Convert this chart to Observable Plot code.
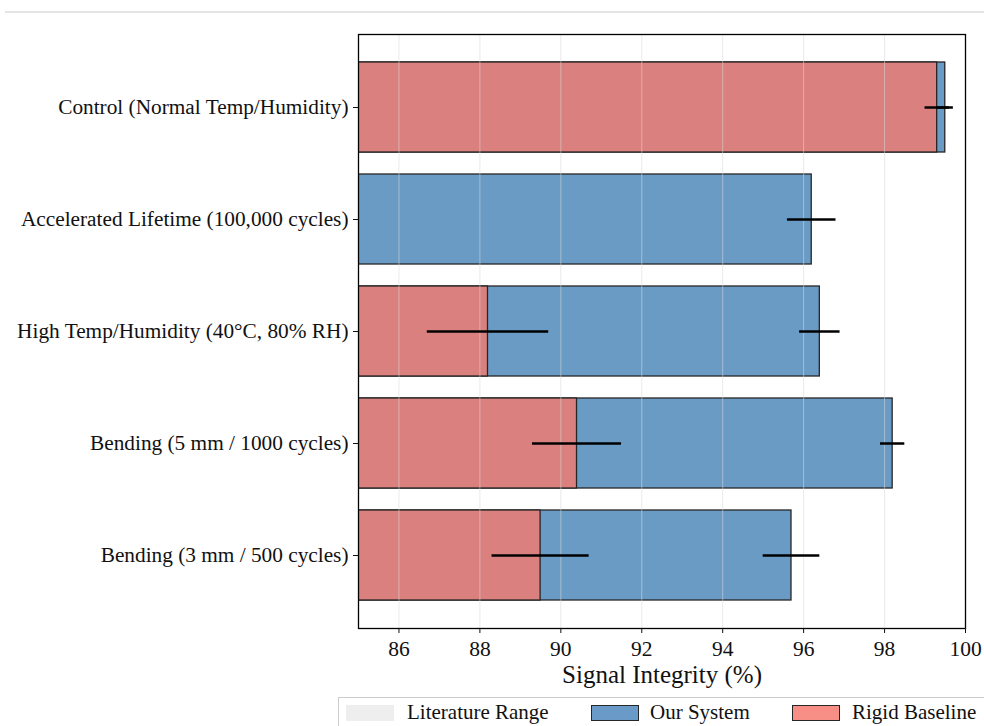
<!DOCTYPE html>
<html>
<head>
<meta charset="utf-8">
<script src="https://cdn.jsdelivr.net/npm/d3@7"></script>
<script src="https://cdn.jsdelivr.net/npm/@observablehq/plot@0.6"></script>
<style>
  html, body { margin: 0; padding: 0; background: #ffffff; }
  body { width: 984px; height: 726px; position: relative; overflow: hidden; font-family: "Liberation Serif", "DejaVu Serif", serif; }
  #topline { position: absolute; left: 5px; right: 0; top: 11px; height: 2px; background: #e4e4e4; }
  #chart { position: absolute; left: 0; top: 0; }
  #legend { position: absolute; left: 338px; top: 697px; width: 660px; height: 30px; border: 1px solid #cccccc; background: #fff; box-sizing: border-box; }
  .sw { position: absolute; top: 7px; width: 48px; height: 16px; box-sizing: border-box; }
  .lt { position: absolute; top: 2px; font-size: 21px; color: #111; white-space: nowrap; line-height: 24px; }
</style>
</head>
<body>
<div id="topline"></div>
<div id="chart"></div>
<div id="legend"></div>
<script>
const categories = [
  "Control (Normal Temp/Humidity)",
  "Accelerated Lifetime (100,000 cycles)",
  "High Temp/Humidity (40°C, 80% RH)",
  "Bending (5 mm / 1000 cycles)",
  "Bending (3 mm / 500 cycles)"
];
const oursValues = [99.5, 96.2, 96.4, 98.2, 95.7];
const oursErrors = [0.2, 0.6, 0.5, 0.3, 0.7];
const rigidValues = [99.3, null, 88.2, 90.4, 89.5];
const rigidErrors = [0.3, null, 1.5, 1.1, 1.2];
const xTicks = [86, 88, 90, 92, 94, 96, 98, 100];
const legendLabels = ["Literature Range", "Our System", "Rigid Baseline"];

const ours = categories.map((c, i) => ({cat: c, v: oursValues[i], e: oursErrors[i]}));
const rigid = categories.map((c, i) => ({cat: c, v: rigidValues[i], e: rigidErrors[i]})).filter(d => d.v != null);

const W = 984, H = 694;

const chart = Plot.plot({
  width: W,
  height: H,
  marginTop: 34,
  marginBottom: 66,
  marginLeft: 358,
  marginRight: 19,
  style: {fontFamily: "'Liberation Serif', serif", background: "transparent", color: "#111"},
  x: {domain: [85, 100], ticks: xTicks},
  y: {domain: categories, paddingInner: 0.2, paddingOuter: 0.246, align: 0.5},
  marks: [
    Plot.barX(ours, {x1: 85, x2: "v", y: "cat", fill: "#6a9bc5", stroke: "#262626", strokeWidth: 1.3, clip: true}),
    Plot.barX(rigid, {x1: 85, x2: "v", y: "cat", fill: "#da807e", stroke: "#262626", strokeWidth: 1.3, clip: true}),
    Plot.gridX(xTicks, {stroke: "#d8d8d8", strokeOpacity: 0.55, strokeWidth: 1}),
    Plot.ruleY(ours, {x1: d => d.v - d.e, x2: d => d.v + d.e, y: "cat", stroke: "#000", strokeWidth: 2.5}),
    Plot.ruleY(rigid, {x1: d => d.v - d.e, x2: d => d.v + d.e, y: "cat", stroke: "#000", strokeWidth: 2.5}),
    Plot.frame({stroke: "#000", strokeWidth: 1.3}),
    Plot.axisX({ticks: xTicks, tickSize: 5, tickPadding: 7, fontSize: 21.5, label: null, tickFormat: d => String(d)}),
    Plot.axisY({tickSize: 5, tickPadding: 5, fontSize: 21.3, label: null}),
    Plot.text(["Signal Integrity (%)"], {frameAnchor: "bottom", dy: 54, fontSize: 25, fill: "#111"})
  ]
});
document.getElementById("chart").appendChild(chart);

const legend = document.getElementById("legend");
const swatches = [
  {fill: "#eeeeee", stroke: "none", left: 7},
  {fill: "#6a9bc8", stroke: "1.3px solid #262626", left: 252},
  {fill: "#f88f87", stroke: "1.3px solid #262626", left: 453}
];
const textLeft = [68, 311, 513];
legendLabels.forEach((lab, i) => {
  const s = document.createElement("div");
  s.className = "sw";
  s.style.left = swatches[i].left + "px";
  s.style.background = swatches[i].fill;
  if (swatches[i].stroke !== "none") s.style.border = swatches[i].stroke;
  legend.appendChild(s);
  const t = document.createElement("div");
  t.className = "lt";
  t.style.left = textLeft[i] + "px";
  t.textContent = lab;
  legend.appendChild(t);
});
</script>
</body>
</html>
